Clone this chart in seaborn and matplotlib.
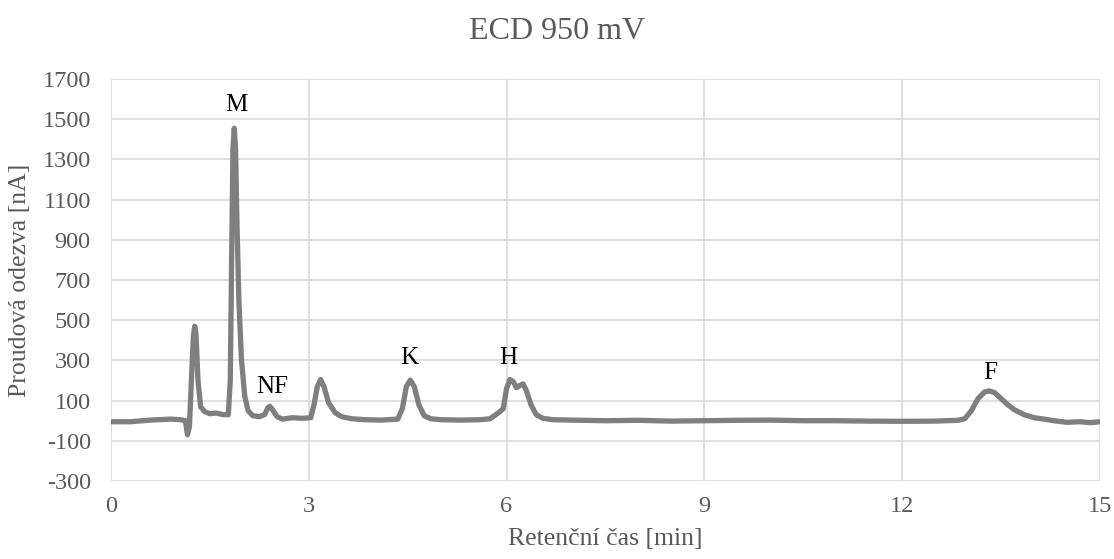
#  ECD 950 mV chromatogram

import matplotlib
matplotlib.use('Agg')
import matplotlib.pyplot as plt
import seaborn as sns
import pandas as pd

# retention time [min]
time_min = [0.0, 0.3, 0.6, 0.9, 1.05, 1.13, 1.16, 1.19, 1.22, 1.25, 1.27, 1.29, 1.32, 1.36,
            1.42, 1.5, 1.6, 1.7, 1.78, 1.81, 1.83, 1.85, 1.87, 1.89, 1.91, 1.94, 1.98, 2.03,
            2.08, 2.15, 2.25, 2.33, 2.38, 2.41, 2.45, 2.52, 2.6, 2.75, 2.9, 3.03, 3.08, 3.13,
            3.18, 3.23, 3.3, 3.4, 3.5, 3.65, 3.85, 4.1, 4.35, 4.42, 4.48, 4.54, 4.6, 4.67,
            4.75, 4.85, 5.0, 5.3, 5.6, 5.75, 5.88, 5.95, 6.0, 6.05, 6.1, 6.15, 6.2, 6.25,
            6.3, 6.37, 6.45, 6.55, 6.7, 7.0, 7.5, 8.0, 8.5, 9.0, 9.5, 10.0, 10.5, 11.0,
            11.5, 12.0, 12.5, 12.85, 12.95, 13.05, 13.15, 13.25, 13.32, 13.4, 13.5, 13.6,
            13.7, 13.85, 14.0, 14.15, 14.3, 14.5, 14.7, 14.85, 15.0]

# current response [nA]
current_na = [-5, -5, 3, 8, 5, 0, -70, -30, 200, 420, 470, 430, 200, 70,
              45, 35, 38, 30, 30, 200, 800, 1350, 1455, 1350, 1000, 600, 300, 120,
              50, 25, 20, 30, 65, 72, 55, 20, 8, 15, 12, 15, 80, 170,
              205, 170, 90, 40, 20, 10, 5, 3, 8, 60, 170, 202, 170, 80,
              25, 10, 5, 3, 5, 10, 40, 60, 160, 205, 195, 165, 175, 183,
              150, 80, 30, 12, 5, 3, 0, 2, -2, 0, 2, 3, 0, 0,
              -2, -3, -2, 2, 10, 50, 110, 143, 148, 140, 110, 80,
              55, 30, 15, 8, 0, -8, -5, -10, -5]

# peak labels
peak_names = ['M', 'NF', 'K', 'H', 'F']
peak_x = [1.9, 2.45, 4.53, 6.02, 13.33]
peak_y = [1570, 170, 310, 310, 235]

df = pd.DataFrame({'t': time_min, 'i': current_na})

sns.set_style('white')
plt.rcParams['font.family'] = ['Liberation Serif', 'DejaVu Serif']
plt.rcParams['axes.unicode_minus'] = False

fig = plt.figure(figsize=(11.14, 5.59), dpi=100)
ax = fig.add_axes([0.0996, 0.1395, 0.8878, 0.7192])

sns.lineplot(data=df, x='t', y='i', sort=False, color='#7f7f7f', linewidth=3.8, ax=ax)
for line in ax.lines:
    line.set_solid_joinstyle('round')
    line.set_solid_capstyle('round')

for name, px, py in zip(peak_names, peak_x, peak_y):
    ax.text(px, py, name, ha='center', va='center', fontsize=18, color='black')

ax.set_xlim(0, 15)
ax.set_ylim(-300, 1700)
ax.set_xticks(range(0, 16, 3))
ax.set_yticks(range(-300, 1701, 200))
ax.grid(True, color='#d9d9d9', linewidth=1.2)
ax.set_axisbelow(True)
for s in ax.spines.values():
    s.set_visible(False)
ax.tick_params(length=0, labelsize=17.5, colors='#595959')
ax.tick_params(axis='x', pad=10.5)
ax.tick_params(axis='y', pad=14.5)

ax.set_xlabel('Retenční čas [min]', fontsize=18.5, color='#595959')
ax.set_ylabel('Proudová odezva [nA]', fontsize=18.5, color='#595959')
ax.xaxis.set_label_coords(0.5, -0.144)
ax.yaxis.set_label_coords(-0.092, 0.5)
ax.xaxis.label.set_va('center')
ax.yaxis.label.set_va('center')
fig.text(0.5, 0.943, 'ECD 950 mV', ha='center', va='center', fontsize=23, color='#595959')

fig.savefig('out.png', dpi=100)
